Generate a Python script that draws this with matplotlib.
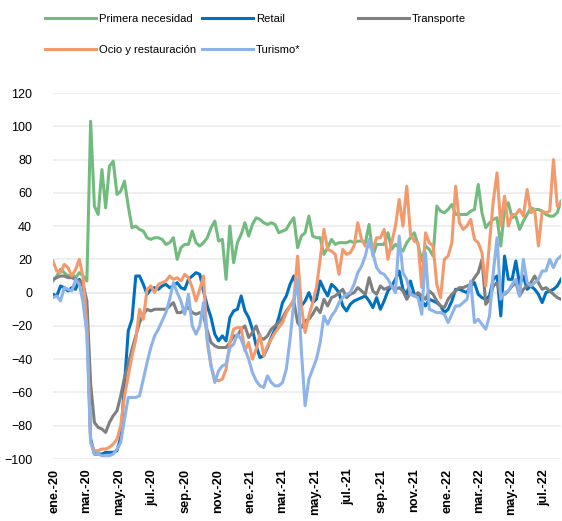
import pandas as pd
import matplotlib
matplotlib.use('Agg')
from matplotlib import pyplot as plt

plt.rcParams['font.family'] = ['Liberation Sans', 'DejaVu Sans']

# weekly index, ene-2020 .. ago-2022
weeks = pd.date_range('2019-12-30', periods=136, freq='7D')

primera = [7, 10, 14, 12, 10, 11, 9, 12, 10, 7,
           103, 52, 47, 74, 51, 76, 79, 59, 61, 67,
           52, 39, 40, 38, 37, 33, 32, 33, 33, 32,
           29, 30, 33, 20, 27, 29,
           29, 37, 30, 28, 30, 33, 39, 43, 31, 32,
           8, 40, 18, 30, 35, 42, 34, 41, 45, 44,
           42, 41, 42, 41, 36, 37, 38, 42, 45, 27,
           34, 36, 46, 34, 33, 33, 23, 27, 32, 29,
           30, 30, 30, 31, 30, 31, 31, 30, 41, 22,
           29, 29, 29, 36, 26, 29, 27, 25, 30, 33,
           36, 29, 19, 28, 26, 22, 52, 49, 48, 50,
           53, 47, 47, 47, 47, 49, 50, 65, 48, 39,
           42, 44, 45, 28, 50, 54, 45, 46, 38, 43,
           47, 51, 50, 50, 49, 47, 46, 46, 48, 55]

retail = [-1, -2, 4, 3, 1, 3, 2, 8, 4, -10,
          -88, -97, -97, -97, -96, -96, -96, -95, -87, -55,
          -23, -16, 10, 10, 5, -1, 2, 3, 2, 4,
          5, 3, 4, 6, 3, 2,
          8, 10, 12, 11, 1, -8, -15, -25, -29, -26,
          -29, -15, -11, -10, -2, -11, -15, -22, -32, -39,
          -38, -33, -27, -22, -15, -6, -2, 5, 10, 2,
          -8, -5, 0, -6, -4, 7, 2, -2, 5, 3,
          0, -8, -11, -7, -5, -4, -3, -2, -5, -9,
          -3, -10, -5, 1, 4, 8, 13, 2, -1, 7,
          -1, -2, -5, -8, -4, -5, -6, -8, -12, -10,
          -5, 2, 2, 1, 0, 4, 6, -1, -3, -4,
          -2, 8, 10, -14, 22, 8, 8, 19, 5, 10,
          2, 4, 2, -1, -6, 0, 1, 2, 4, 8]

transporte = [8, 9, 10, 10, 9, 9, 8, 7, 5, -5,
              -55, -78, -81, -82, -84, -78, -74, -71, -62, -51,
              -43, -34, -26, -18, -13, -10, -11, -10, -10, -10,
              -10, -8, -6, -12, -12, -10,
              -9, -12, -13, -12, -14, -23, -30, -32, -33, -33,
              -33, -30, -26, -26, -22, -20, -27, -24, -20, -27,
              -28, -26, -22, -20, -18, -15, -11, -8, -5, -18,
              -21, -17, -16, -13, -9, -12, -4, -8, -3, -2,
              0, 2, -3, -1, 0, 3, 1, -1, 9, 1,
              -1, 4, 2, 3, 4, 2, 3, 1, -4, 0,
              -2, 0, -2, -4, 1, -1, -5, -8, -9, -4,
              -1, 1, 3, 3, 4, 5, 9, 12, 20, -7,
              -4, 4, 6, -2, -1, 1, 4, 6, -2, 2,
              4, 6, 10, 6, 2, 3, 1, -1, -3, -4]

ocio = [19, 13, 12, 17, 15, 10, 14, 20, 9, -20,
        -90, -95, -95, -94, -94, -93, -91, -88, -80, -62,
        -50, -38, -28, -10, -16, 2, 4, 0, 5, 6,
        7, 10, 8, 9, 7, 11,
        9, 3, -5, 2, 10, -30, -44, -52, -53, -52,
        -46, -30, -22, -21, -21, -35, -30, -40, -34, -25,
        -38, -32, -28, -24, -21, -18, -12, -8, -4, 22,
        -8, -24, -14, -6, 3, 20, 38, 26, 25, 23,
        11, 26, 23, 24, 28, 42, 32, 28, 28, 26,
        33, 33, 38, 20, 30, 40, 56, 40, 64, 35,
        31, 30, 3, 36, 30, 28, 5, -3, 20, 22,
        30, 64, 42, 38, 40, 44, 32, 30, 24, 4,
        30, 55, 72, 40, 58, 40, 47, 47, 50, 46,
        62, 48, 50, 28, 49, 48, 49, 80, 52, 54]

turismo = [-3, -2, -5, 3, 2, 1, 8, 5, -6, -25,
           -90, -97, -97, -98, -98, -98, -97, -94, -90, -76,
           -63, -63, -63, -62, -52, -42, -33, -26, -22, -17,
           -12, -4, 6, 0, -5, -13,
           -1, -20, -25, -20, -6, -28, -44, -54, -47, -44,
           -43, -33, -31, -25, -28, -34, -40, -48, -53, -56,
           -57, -50, -54, -56, -56, -54, -46, -28, -6, 8,
           -35, -68, -52, -46, -40, -30, -14, -19, -14, -11,
           -6, -3, -1, 0, 5, 12, 16, 22, 32, 24,
           15, 12, 11, 8, 4, 0, 34, 12, 8, -1,
           -2, -3, -13, 24, -10, -11, -12, -12, -13, -18,
           -13, -8, -8, -6, -4, 7, -18, -16, -19, -22,
           -14, 12, 33, -4, 0, 1, 5, 8, -2, 20,
           6, 4, 6, 8, 13, 13, 20, 15, 20, 22]

series = [
    ('Primera necesidad', primera, '#72BB7E'),
    ('Retail', retail, '#0070C0'),
    ('Transporte', transporte, '#7F7F7F'),
    ('Ocio y restauración', ocio, '#F4996C'),
    ('Turismo*', turismo, '#8DB3E9'),
]

meses = ['ene.', 'feb.', 'mar.', 'abr.', 'may.', 'jun.',
         'jul.', 'ago.', 'sep.', 'oct.', 'nov.', 'dic.']
tick_dates = pd.date_range('2020-01-01', '2022-07-01', freq='2MS')
tick_labels = [f'{meses[d.month - 1]}-{d.strftime("%y")}' for d in tick_dates]

fig = plt.figure(figsize=(5.62, 5.21), dpi=100)
ax = fig.add_axes([53 / 562, 1 - 459 / 521, (561 - 53) / 562, (459 - 93) / 521])

lines = {}
for name, vals, col in series:
    lines[name], = ax.plot(weeks, vals, color=col, lw=2.2, solid_joinstyle='round')

ax.set_xlim(weeks[0], weeks[-1])
ax.set_ylim(-100, 120)
ax.set_yticks(range(-100, 121, 20))
ax.set_xticks(tick_dates)
ax.set_xticklabels(tick_labels, rotation=90, fontweight='bold', fontsize=9.2)
ax.tick_params(axis='y', length=0, pad=15, labelsize=9)
ax.tick_params(axis='x', length=0, pad=7)
ax.yaxis.grid(True, color='#EEEEEE', lw=1.3)
ax.axhline(0, color='#D9D9D9', lw=1.3, zorder=0.5)
ax.set_axisbelow(True)
for s in ax.spines.values():
    s.set_visible(False)

# legend in three columns, placed like the original
cols = [(45, ['Primera necesidad', 'Ocio y restauración']),
        (202, ['Retail', 'Turismo*']),
        (358, ['Transporte'])]
for x0, names in cols:
    fig.legend(handles=[lines[n] for n in names], labels=names,
               loc='upper left', bbox_to_anchor=(x0 / 562, 1 - 14 / 521),
               frameon=False, borderpad=0, borderaxespad=0, fontsize=8.1,
               handlelength=4.5, handletextpad=0.3, labelspacing=1.9)

fig.savefig('out.png', dpi=100)
